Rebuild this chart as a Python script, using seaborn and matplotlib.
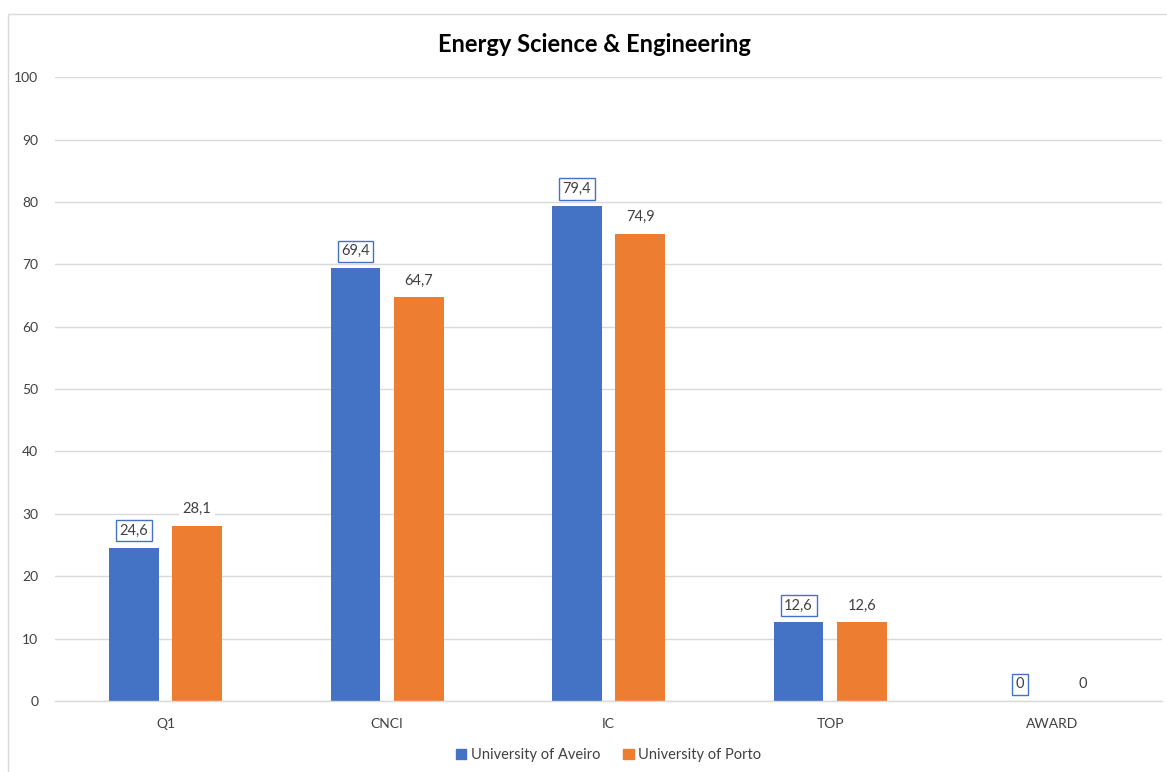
import matplotlib
matplotlib.use("Agg")
import matplotlib.pyplot as plt
import matplotlib.patches as mpatches
import pandas as pd
import seaborn as sns

CATEGORIES = ["Q1", "CNCI", "IC", "TOP", "AWARD"]
AVEIRO = [24.6, 69.4, 79.4, 12.6, 0]
PORTO = [28.1, 64.7, 74.9, 12.6, 0]
SERIES = ["University of Aveiro", "University of Porto"]
TITLE = "Energy Science & Engineering"

BLUE = "#4472c4"
ORANGE = "#ed7d31"

sns.set_theme(style="white")
plt.rcParams["font.family"] = ["Lato", "DejaVu Sans"]

df = pd.DataFrame({
    "category": CATEGORIES * 2,
    "value": AVEIRO + PORTO,
    "series": [SERIES[0]] * len(CATEGORIES) + [SERIES[1]] * len(CATEGORIES),
})

fig = plt.figure(figsize=(11.67, 7.72), dpi=100)
ax = fig.add_axes([0.047, 0.092, 0.949, 0.808])

sns.barplot(data=df, x="category", y="value", hue="series",
            palette=[BLUE, ORANGE], width=0.57, gap=0.21, saturation=1,
            edgecolor="none", ax=ax, legend=True)

ax.set_ylim(0, 100)
ax.set_yticks(range(0, 101, 10))
ax.set_xlabel("")
ax.set_ylabel("")
ax.grid(axis="y", color="#d9d9d9", linewidth=1.0)
ax.set_axisbelow(True)
for side in ["top", "right", "left"]:
    ax.spines[side].set_visible(False)
ax.spines["bottom"].set_color("#d9d9d9")
ax.spines["bottom"].set_linewidth(1.0)
ax.tick_params(axis="both", length=0, labelsize=10, colors="#404040")
ax.tick_params(axis="y", pad=12)
ax.tick_params(axis="x", pad=12)

def fmt(v):
    s = f"{v:.1f}".replace(".", ",")
    return "0" if v == 0 else s

for i, container in enumerate(ax.containers):
    for bar, v in zip(container, [AVEIRO, PORTO][i]):
        x = bar.get_x() + bar.get_width() / 2
        y = bar.get_height()
        if i == 0:
            box = dict(boxstyle="square,pad=0.25", facecolor="white",
                       edgecolor=BLUE, linewidth=1.0)
        else:
            box = dict(boxstyle="square,pad=0.25", facecolor="white",
                       edgecolor="none")
        ax.annotate(fmt(v), (x, y), xytext=(0, 7), textcoords="offset points",
                    ha="center", va="bottom", fontsize=10.5, color="#404040",
                    bbox=box)

ax.legend(handles=[mpatches.Patch(color=BLUE, label=SERIES[0]),
                   mpatches.Patch(color=ORANGE, label=SERIES[1])],
          loc="center", bbox_to_anchor=(0.5, -0.087), ncol=2, frameon=False,
          fontsize=10.5, handlelength=0.7, handleheight=0.7, handletextpad=0.3,
          columnspacing=1.6, labelcolor="#404040")

fig.text(0.509, 0.942, TITLE, ha="center", va="center",
         fontsize=17, fontweight="bold", color="#000000")

fig.patches.append(mpatches.Rectangle((8 / 1167, -0.01), 1.1, 1 - 14 / 772 + 0.01,
                                      transform=fig.transFigure, fill=False,
                                      edgecolor="#d9d9d9", linewidth=1.0))

fig.savefig("out.png", dpi=100, facecolor="white")
